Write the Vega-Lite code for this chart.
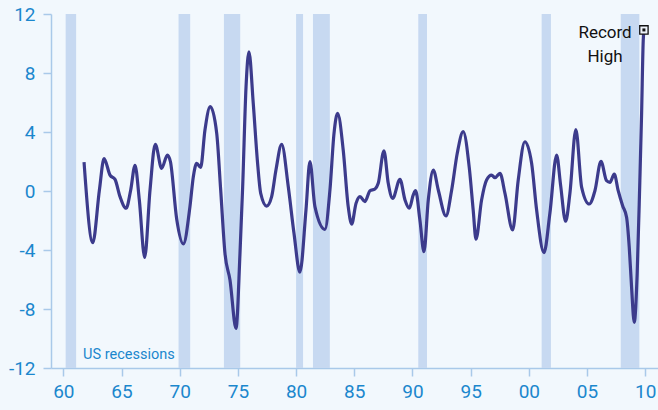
{
  "$schema": "https://vega.github.io/schema/vega-lite/v6.json",
  "width": 607,
  "height": 354,
  "autosize": {"type": "none"},
  "padding": {"left": 51, "top": 14, "right": 0, "bottom": 42},
  "background": "#F2F8FD",
  "config": {
    "view": {"stroke": null},
    "axis": {
      "domainColor": "#A9C9E9",
      "domainWidth": 1.5,
      "tickColor": "#A9C9E9",
      "tickWidth": 1.5,
      "tickSize": 8,
      "grid": false,
      "labelColor": "#1B87CD",
      "labelFont": "Roboto",
      "labelFontSize": 19
    },
    "axisX": {"labelPadding": 6},
    "axisY": {"labelPadding": 8}
  },
  "datasets": {
    "rec": [
      {"start": 1960.2, "end": 1961.1},
      {"start": 1969.9, "end": 1970.9},
      {"start": 1973.8, "end": 1975.2},
      {"start": 1980.0, "end": 1980.6},
      {"start": 1981.45, "end": 1982.9},
      {"start": 1990.5, "end": 1991.25},
      {"start": 2001.1, "end": 2001.9},
      {"start": 2007.9, "end": 2009.5}
    ],
    "series": [
      {"year": 1961.78, "value": 1.95},
      {"year": 1962.53, "value": -3.5},
      {"year": 1963.1, "value": 0.07},
      {"year": 1963.5, "value": 2.19},
      {"year": 1964.01, "value": 1.08},
      {"year": 1964.44, "value": 0.79},
      {"year": 1964.87, "value": -0.38},
      {"year": 1965.39, "value": -1.17},
      {"year": 1965.79, "value": 0.07},
      {"year": 1966.16, "value": 1.74},
      {"year": 1966.53, "value": -0.61},
      {"year": 1966.99, "value": -4.5},
      {"year": 1967.45, "value": 0.07},
      {"year": 1967.9, "value": 3.17},
      {"year": 1968.45, "value": 1.54},
      {"year": 1968.94, "value": 2.44},
      {"year": 1969.2, "value": 2.0},
      {"year": 1969.74, "value": -1.9},
      {"year": 1970.31, "value": -3.59},
      {"year": 1970.88, "value": -1.06},
      {"year": 1971.17, "value": 0.97},
      {"year": 1971.46, "value": 1.88},
      {"year": 1971.8, "value": 1.6},
      {"year": 1972.17, "value": 4.14},
      {"year": 1972.63, "value": 5.72},
      {"year": 1973.18, "value": 3.91},
      {"year": 1973.52, "value": 0.07},
      {"year": 1973.89, "value": -4.23},
      {"year": 1974.32, "value": -6.03},
      {"year": 1974.84, "value": -9.31},
      {"year": 1975.18, "value": -4.23},
      {"year": 1975.41, "value": 0.29},
      {"year": 1975.7, "value": 7.07},
      {"year": 1975.95, "value": 9.44},
      {"year": 1976.32, "value": 5.94},
      {"year": 1976.67, "value": 2.1},
      {"year": 1976.96, "value": -0.16},
      {"year": 1977.47, "value": -1.02},
      {"year": 1977.9, "value": -0.38},
      {"year": 1978.27, "value": 1.42},
      {"year": 1978.76, "value": 3.16},
      {"year": 1979.33, "value": 0.29},
      {"year": 1979.82, "value": -2.87},
      {"year": 1980.33, "value": -5.51},
      {"year": 1980.85, "value": -1.29},
      {"year": 1981.19, "value": 1.99},
      {"year": 1981.62, "value": -1.06},
      {"year": 1982.48, "value": -2.6},
      {"year": 1982.91, "value": 0.07},
      {"year": 1983.26, "value": 3.91},
      {"year": 1983.57, "value": 5.27},
      {"year": 1984.05, "value": 2.78},
      {"year": 1984.48, "value": -1.06},
      {"year": 1984.78, "value": -2.24},
      {"year": 1985.15, "value": -0.84},
      {"year": 1985.49, "value": -0.38},
      {"year": 1985.92, "value": -0.72},
      {"year": 1986.35, "value": 0.02},
      {"year": 1986.78, "value": 0.14},
      {"year": 1987.06, "value": 0.52},
      {"year": 1987.55, "value": 2.73},
      {"year": 1987.92, "value": 0.52},
      {"year": 1988.3, "value": -0.5},
      {"year": 1988.93, "value": 0.79},
      {"year": 1989.36, "value": -0.61},
      {"year": 1989.73, "value": -1.17},
      {"year": 1990.07, "value": -0.27},
      {"year": 1990.27, "value": 0.02},
      {"year": 1990.64, "value": -1.97},
      {"year": 1990.99, "value": -4.11},
      {"year": 1991.36, "value": -0.61},
      {"year": 1991.79, "value": 1.42},
      {"year": 1992.22, "value": 0.07},
      {"year": 1992.88, "value": -1.69},
      {"year": 1993.37, "value": 0.07},
      {"year": 1993.85, "value": 2.56},
      {"year": 1994.36, "value": 4.02},
      {"year": 1994.88, "value": 1.6},
      {"year": 1995.22, "value": -1.29},
      {"year": 1995.46, "value": -3.27},
      {"year": 1995.94, "value": -0.61},
      {"year": 1996.37, "value": 0.75},
      {"year": 1996.8, "value": 1.08},
      {"year": 1997.09, "value": 0.9},
      {"year": 1997.52, "value": 1.2},
      {"year": 1997.95, "value": -0.16},
      {"year": 1998.61, "value": -2.64},
      {"year": 1999.09, "value": 0.75},
      {"year": 1999.66, "value": 3.34},
      {"year": 2000.24, "value": 1.88},
      {"year": 2000.67, "value": -1.29},
      {"year": 2001.3, "value": -4.18},
      {"year": 2001.81, "value": -1.51},
      {"year": 2002.39, "value": 2.44},
      {"year": 2002.73, "value": 0.4},
      {"year": 2003.16, "value": -2.05},
      {"year": 2003.53, "value": -0.16},
      {"year": 2004.04, "value": 4.17},
      {"year": 2004.54, "value": 0.25},
      {"year": 2005.19, "value": -0.88},
      {"year": 2005.68, "value": 0.02},
      {"year": 2006.2, "value": 2.01},
      {"year": 2006.68, "value": 0.7},
      {"year": 2006.97, "value": 0.59},
      {"year": 2007.34, "value": 1.15},
      {"year": 2007.68, "value": 0.02},
      {"year": 2008.06, "value": -1.0},
      {"year": 2008.4, "value": -1.78},
      {"year": 2008.63, "value": -3.82},
      {"year": 2008.83, "value": -6.53},
      {"year": 2009.06, "value": -8.9},
      {"year": 2009.31, "value": -5.63},
      {"year": 2009.54, "value": 0.7},
      {"year": 2009.69, "value": 5.22},
      {"year": 2009.83, "value": 10.19},
      {"year": 2009.89, "value": 10.92}
    ],
    "marker": [{"year": 2009.89, "value": 10.92}],
    "note": [{"year": 2006.55, "value": 10.71, "label": "Record\nHigh"}],
    "rlabel": [{"year": 1961.7, "value": -11.12, "label": "US recessions"}]
  },
  "layer": [
    {
      "data": {"name": "rec"},
      "mark": {"type": "rect", "color": "#C7D9F1"},
      "encoding": {
        "x": {"field": "start", "type": "quantitative", "scale": {"domain": [1958.94, 2011.1], "nice": false, "zero": false}, "axis": {"title": null, "values": [1960, 1965, 1970, 1975, 1980, 1985, 1990, 1995, 2000, 2005, 2010], "labelExpr": "format(datum.value % 100, '02d')"}},
        "x2": {"field": "end"}
      }
    },
    {
      "mark": {"type": "rule", "color": "#A9C9E9", "strokeWidth": 1.5},
      "encoding": {
        "y": {"datum": 0, "type": "quantitative", "scale": {"domain": [-12, 12], "nice": false}, "axis": {"title": null, "values": [-12, -8, -4, 0, 4, 8, 12], "labelExpr": "(datum.value < 0 ? '-' : '') + abs(datum.value)"}}
      }
    },
    {
      "data": {"name": "series"},
      "mark": {"type": "line", "color": "#3C3B8C", "strokeWidth": 3.2, "interpolate": "monotone"},
      "encoding": {
        "x": {"field": "year", "type": "quantitative", "axis": {"title": null}},
        "y": {"field": "value", "type": "quantitative", "axis": {"title": null}}
      }
    },
    {
      "data": {"name": "marker"},
      "mark": {"type": "point", "shape": "square", "size": 70, "filled": true, "fill": "#EEF3FA", "stroke": "#111111", "strokeWidth": 1.3, "opacity": 1},
      "encoding": {
        "x": {"field": "year", "type": "quantitative", "axis": {"title": null}},
        "y": {"field": "value", "type": "quantitative", "axis": {"title": null}}
      }
    },
    {
      "data": {"name": "marker"},
      "mark": {"type": "point", "shape": "square", "size": 9, "filled": true, "color": "#111111", "opacity": 1},
      "encoding": {
        "x": {"field": "year", "type": "quantitative", "axis": {"title": null}},
        "y": {"field": "value", "type": "quantitative", "axis": {"title": null}}
      }
    },
    {
      "data": {"name": "note"},
      "mark": {"type": "text", "align": "center", "baseline": "middle", "lineBreak": "\n", "lineHeight": 24, "fontSize": 17, "font": "Roboto", "color": "#111111"},
      "encoding": {
        "x": {"field": "year", "type": "quantitative", "axis": {"title": null}},
        "y": {"field": "value", "type": "quantitative", "axis": {"title": null}},
        "text": {"field": "label"}
      }
    },
    {
      "data": {"name": "rlabel"},
      "mark": {"type": "text", "align": "left", "baseline": "middle", "fontSize": 14.5, "font": "Roboto", "color": "#1B87CD"},
      "encoding": {
        "x": {"field": "year", "type": "quantitative", "axis": {"title": null}},
        "y": {"field": "value", "type": "quantitative", "axis": {"title": null}},
        "text": {"field": "label"}
      }
    }
  ]
}
